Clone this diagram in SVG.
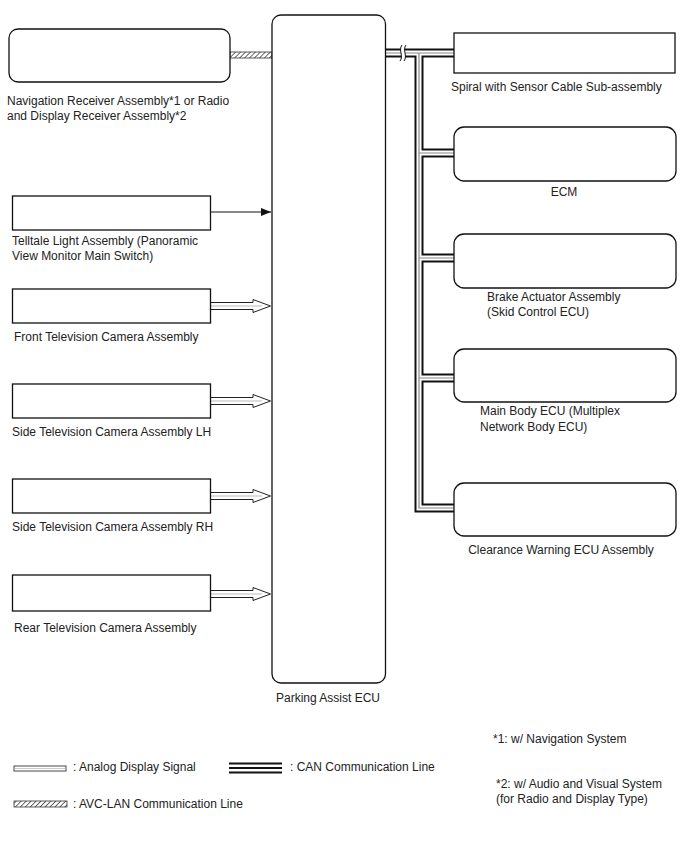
<svg xmlns="http://www.w3.org/2000/svg" width="688" height="852" viewBox="0 0 688 852">
<defs>
<pattern id="hatch" width="3.5" height="3.5" patternUnits="userSpaceOnUse" patternTransform="rotate(45)">
<rect width="3.5" height="3.5" fill="#fff"/>
<line x1="0" y1="0" x2="0" y2="3.5" stroke="#444" stroke-width="1.6"/>
</pattern>
<marker id="arr" viewBox="0 0 10 8" refX="10" refY="4" markerWidth="10" markerHeight="8" markerUnits="userSpaceOnUse" orient="auto">
<path d="M0,0 L10,4 L0,8 Z" fill="#111"/>
</marker>
</defs>
<style>
.box{fill:#fff;stroke:#111;stroke-width:1.3}
.lbl{font-family:"Liberation Sans",Arial,sans-serif;font-size:12px;fill:#222}
.mid{text-anchor:middle}
.ana{fill:#fff;stroke:#222;stroke-width:1}
.anc{stroke:#bbb;stroke-width:1;fill:none}
.canb{fill:none;stroke:#111;stroke-width:9;stroke-linejoin:miter}
.canw{fill:none;stroke:#fff;stroke-width:5;stroke-linejoin:miter}
.cang{fill:none;stroke:#888;stroke-width:1.2;stroke-linejoin:miter}
</style>
<rect width="688" height="852" fill="#fff"/>

<g id="connectors">
<rect x="230" y="52" width="42" height="6" fill="url(#hatch)" stroke="#333" stroke-width="0.8"/>
<line x1="211" y1="212" x2="271" y2="212" stroke="#111" stroke-width="1" marker-end="url(#arr)"/>
<g id="analog-front"><path class="ana" d="M211,302.5 H253 V299.5 L270.5,306 L253,312.5 V309.5 H211"/><line class="anc" x1="211" y1="306" x2="262" y2="306"/></g>
<g id="analog-lh"><path class="ana" d="M211,397.5 H253 V394.5 L270.5,401 L253,407.5 V404.5 H211"/><line class="anc" x1="211" y1="401" x2="262" y2="401"/></g>
<g id="analog-rh"><path class="ana" d="M211,492.5 H253 V489.5 L270.5,496 L253,502.5 V499.5 H211"/><line class="anc" x1="211" y1="496" x2="262" y2="496"/></g>
<g id="analog-rear"><path class="ana" d="M211,590.5 H253 V587.5 L270.5,594 L253,600.5 V597.5 H211"/><line class="anc" x1="211" y1="594" x2="262" y2="594"/></g>
<g id="can-bus">
<path class="canb" d="M385,53 H454 M419,53 V508 H454 M419,153 H454 M419,258 H454 M419,378 H454"/>
<path class="canw" d="M385,53 H454 M419,53 V508 H454 M419,153 H454 M419,258 H454 M419,378 H454"/>
<path class="cang" d="M385,53 H454 M419,53 V508 H454 M419,153 H454 M419,258 H454 M419,378 H454"/>
<path d="M402,45 C398,50 404,56 400,61 L404,61 C408,56 402,50 406,45 Z" fill="#fff"/>
<path d="M402,45 C398,50 404,56 400,61 M406,45 C402,50 408,56 404,61" fill="none" stroke="#111" stroke-width="1"/>
</g>
</g>

<g id="ecu"><rect class="box" x="272" y="15" width="113.5" height="668" rx="9"/><text class="lbl mid" x="328" y="702">Parking Assist ECU</text></g>
<g id="nav"><rect class="box" x="9" y="29" width="221" height="53" rx="9"/><text class="lbl" x="7" y="105">Navigation Receiver Assembly*1 or Radio</text><text class="lbl" x="7" y="120">and Display Receiver Assembly*2</text></g>
<g id="telltale"><rect class="box" x="12.5" y="196" width="198" height="34"/><text class="lbl" x="12" y="245">Telltale Light Assembly (Panoramic</text><text class="lbl" x="12" y="260">View Monitor Main Switch)</text></g>
<g id="front-cam"><rect class="box" x="12.5" y="289" width="198" height="34"/><text class="lbl" x="14" y="341">Front Television Camera Assembly</text></g>
<g id="side-lh"><rect class="box" x="12.5" y="384" width="198" height="34"/><text class="lbl" x="12" y="436">Side Television Camera Assembly LH</text></g>
<g id="side-rh"><rect class="box" x="12.5" y="479" width="198" height="34"/><text class="lbl" x="12" y="531">Side Television Camera Assembly RH</text></g>
<g id="rear-cam"><rect class="box" x="12.5" y="575" width="198" height="36"/><text class="lbl" x="14" y="632">Rear Television Camera Assembly</text></g>

<g id="spiral"><rect class="box" x="454" y="33" width="221" height="40"/><text class="lbl" x="451" y="91">Spiral with Sensor Cable Sub-assembly</text></g>
<g id="ecm"><rect class="box" x="454" y="127" width="222" height="54" rx="10"/><text class="lbl mid" x="564" y="196">ECM</text></g>
<g id="brake"><rect class="box" x="454" y="234" width="222" height="54" rx="10"/><text class="lbl" x="487" y="301">Brake Actuator Assembly</text><text class="lbl" x="487" y="316">(Skid Control ECU)</text></g>
<g id="mainbody"><rect class="box" x="454" y="349" width="222" height="53" rx="10"/><text class="lbl" x="480" y="415">Main Body ECU (Multiplex</text><text class="lbl" x="480" y="431">Network Body ECU)</text></g>
<g id="clearance"><rect class="box" x="454" y="483" width="222" height="53" rx="10"/><text class="lbl mid" x="561" y="554">Clearance Warning ECU Assembly</text></g>

<g id="legend">
<rect x="14" y="766" width="52" height="5" fill="#fff" stroke="#333" stroke-width="0.9"/>
<line x1="15" y1="768.5" x2="65" y2="768.5" stroke="#ccc" stroke-width="1"/>
<text class="lbl" x="73" y="771">: Analog Display Signal</text>
<g stroke="#111" stroke-width="1.8"><line x1="229" y1="763.5" x2="282" y2="763.5"/><line x1="229" y1="768" x2="282" y2="768"/><line x1="229" y1="772.5" x2="282" y2="772.5"/></g>
<text class="lbl" x="290" y="771">: CAN Communication Line</text>
<rect x="14" y="801" width="53" height="6" fill="url(#hatch)" stroke="#333" stroke-width="0.8"/>
<text class="lbl" x="73" y="808">: AVC-LAN Communication Line</text>
<text class="lbl" x="493" y="743">*1: w/ Navigation System</text>
<text class="lbl" x="496" y="788">*2: w/ Audio and Visual System</text>
<text class="lbl" x="496" y="803">(for Radio and Display Type)</text>
</g>
</svg>
